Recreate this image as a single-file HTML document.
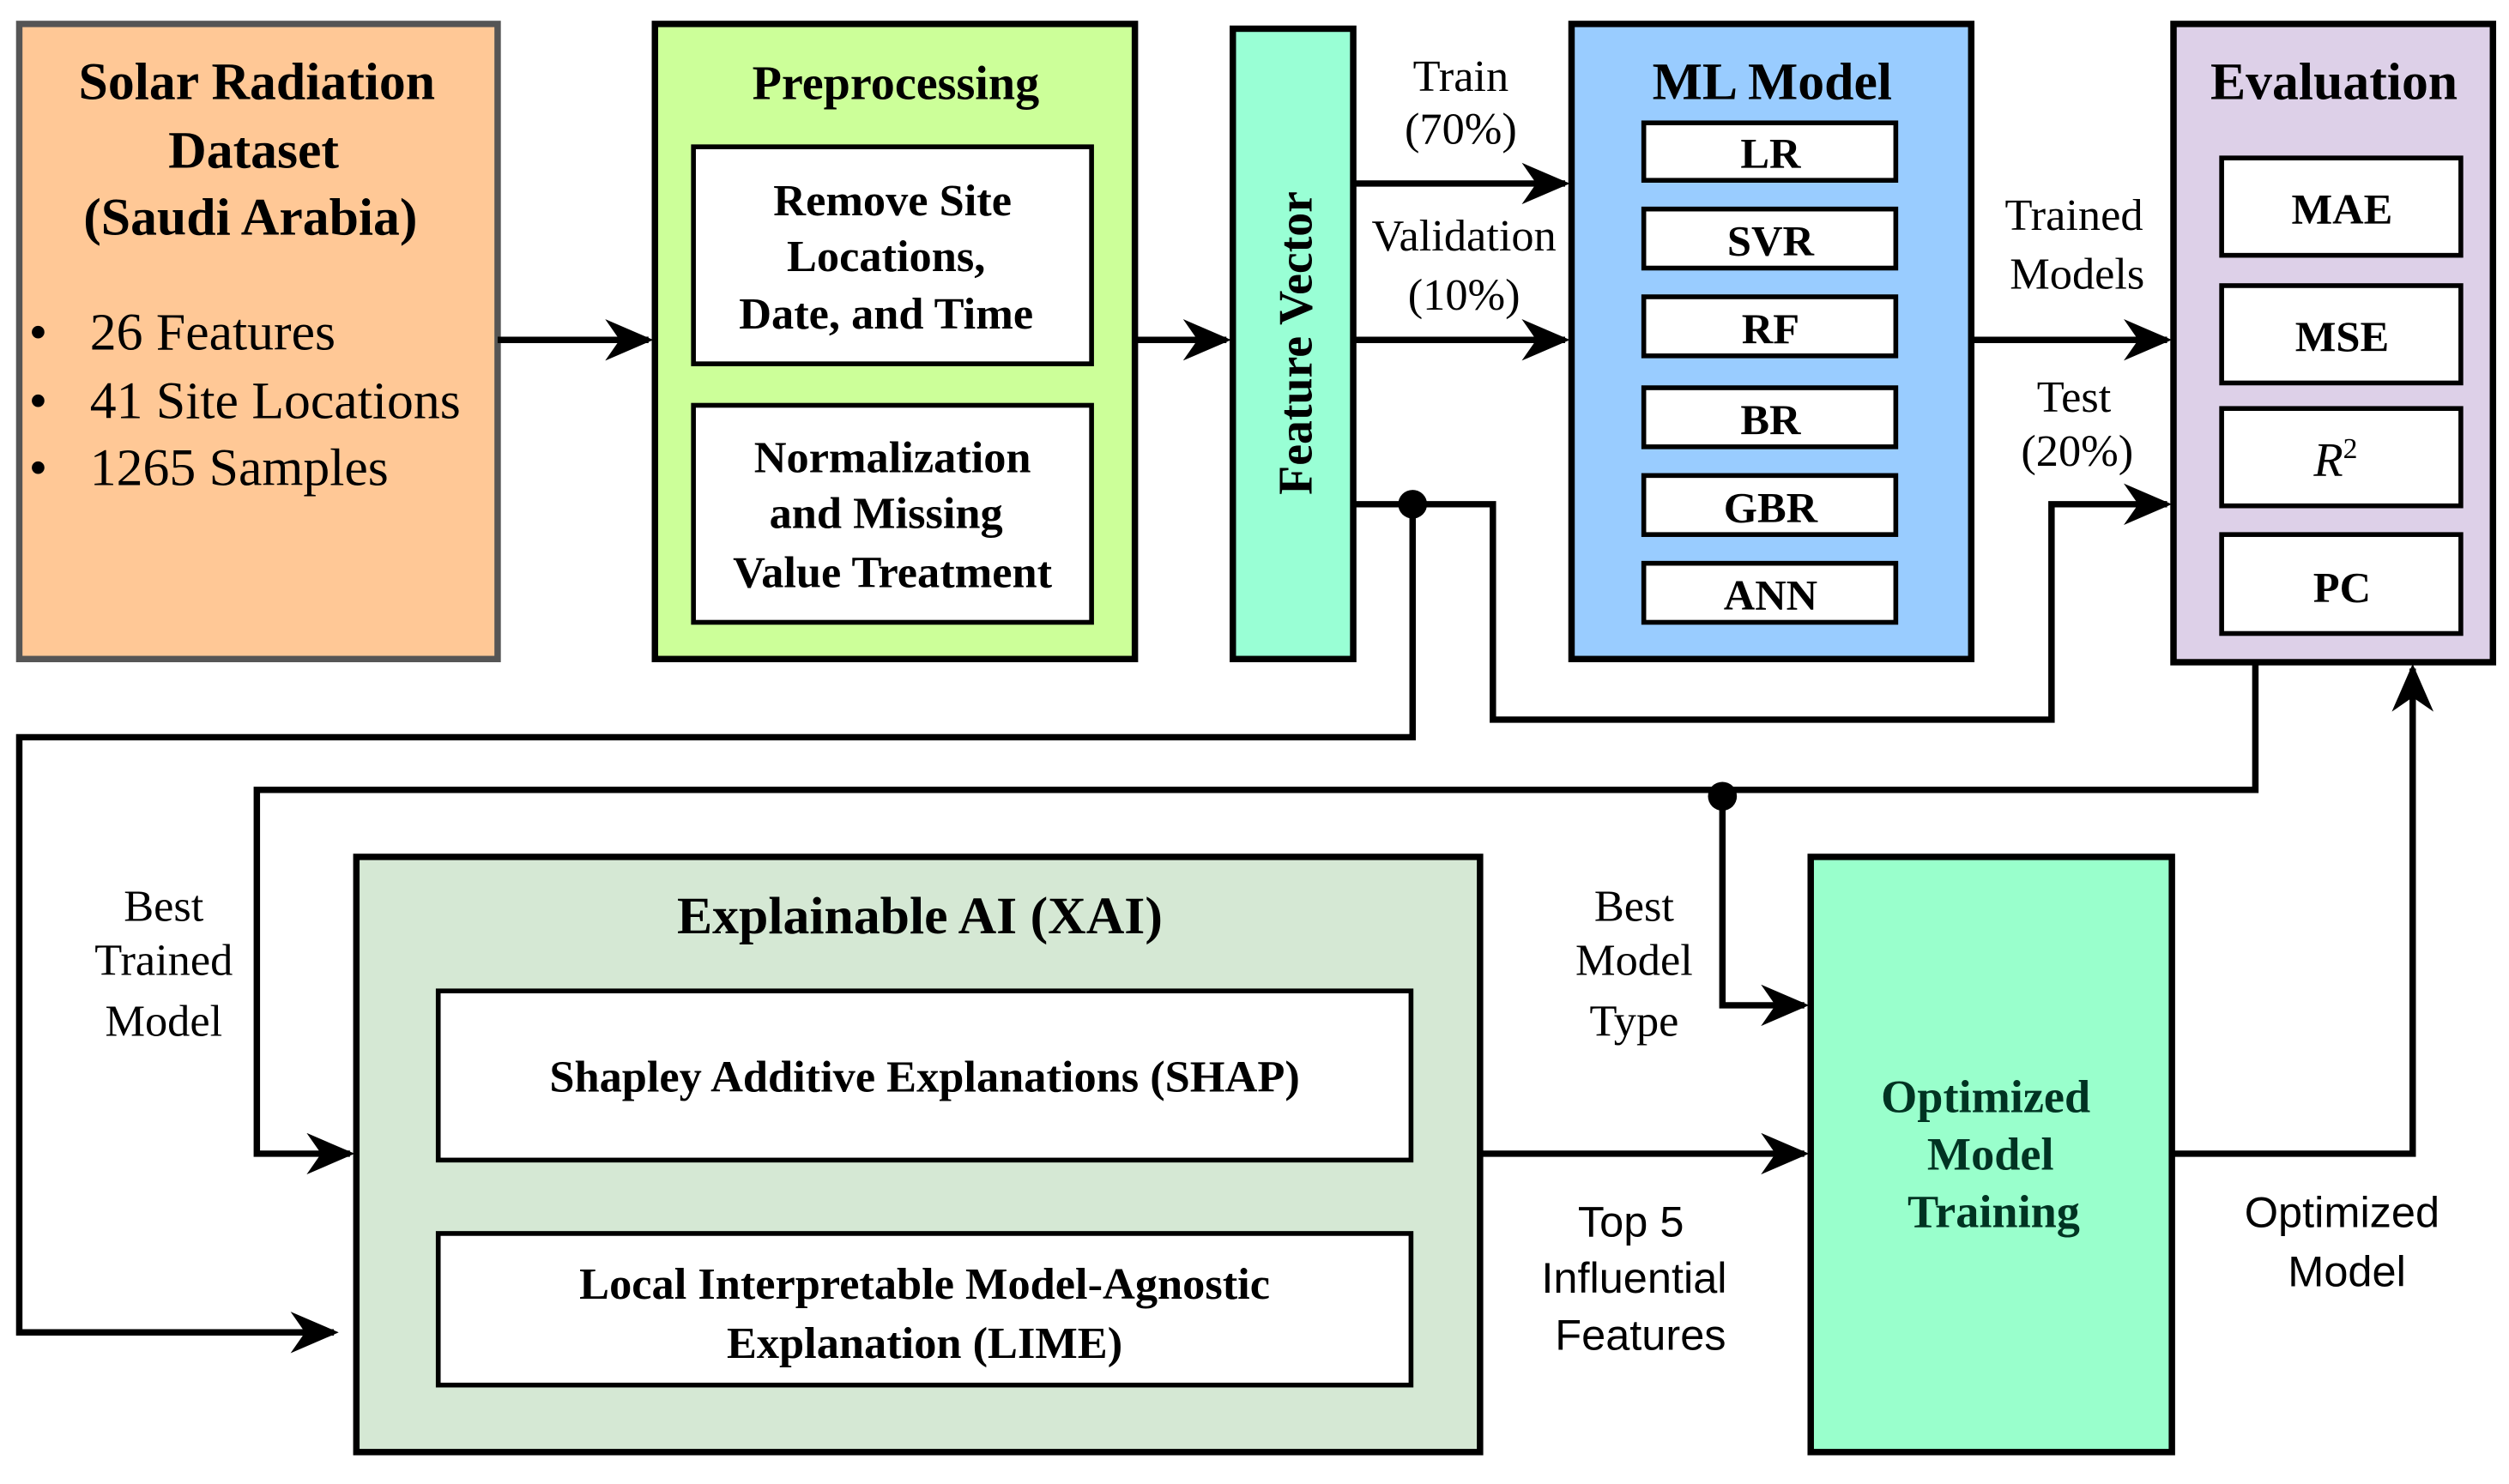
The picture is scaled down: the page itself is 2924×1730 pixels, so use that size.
<!DOCTYPE html>
<html><head><meta charset="utf-8"><style>
html,body{margin:0;padding:0;background:#fff;}
svg{display:block;}
.t{font-family:"Liberation Serif",serif;font-weight:bold;fill:#000;text-anchor:middle;}
.n{font-family:"Liberation Serif",serif;fill:#000;text-anchor:middle;}
.s{font-family:"Liberation Sans",sans-serif;fill:#000;text-anchor:middle;}
</style></head><body>
<svg width="2924" height="1730" viewBox="0 0 1563 930" preserveAspectRatio="none" xmlns="http://www.w3.org/2000/svg">
<defs>
<marker id="a" markerWidth="30" markerHeight="26" refX="9" refY="5" orient="auto" markerUnits="userSpaceOnUse" viewBox="0 0 10 10" preserveAspectRatio="none">
<path d="M0,0 L10,5 L0,10 L3,5 z" fill="#000"/>
</marker>
</defs>
<style>.ln{fill:none;stroke:#000;stroke-width:4;}</style>
<rect x="12" y="15" width="298" height="398" fill="#FFC896" stroke="#555" stroke-width="4"/>
<rect x="408" y="15" width="299" height="398" fill="#CCFF99" stroke="#000" stroke-width="4"/>
<rect x="432" y="92" width="248" height="136" fill="#fff" stroke="#000" stroke-width="3"/>
<rect x="432" y="254" width="248" height="136" fill="#fff" stroke="#000" stroke-width="3"/>
<rect x="768" y="18" width="75" height="395" fill="#99FFD5" stroke="#000" stroke-width="4"/>
<rect x="979" y="15" width="249" height="398" fill="#99CCFF" stroke="#000" stroke-width="4"/>
<g fill="#fff" stroke="#000" stroke-width="3">
<rect x="1024" y="77" width="157" height="36"/>
<rect x="1024" y="131" width="157" height="37"/>
<rect x="1024" y="186" width="157" height="37"/>
<rect x="1024" y="243" width="157" height="37"/>
<rect x="1024" y="298" width="157" height="37"/>
<rect x="1024" y="353" width="157" height="37"/>
</g>
<rect x="1354" y="15" width="199" height="400" fill="#DDD0E8" stroke="#000" stroke-width="4"/>
<g fill="#fff" stroke="#000" stroke-width="3">
<rect x="1384" y="99" width="149" height="61"/>
<rect x="1384" y="179" width="149" height="61"/>
<rect x="1384" y="256" width="149" height="61"/>
<rect x="1384" y="335" width="149" height="62"/>
</g>
<rect x="222" y="537" width="700" height="373" fill="#D5E8D4" stroke="#000" stroke-width="4"/>
<rect x="273" y="621" width="606" height="106" fill="#fff" stroke="#000" stroke-width="3"/>
<rect x="273" y="773" width="606" height="95" fill="#fff" stroke="#000" stroke-width="3"/>
<rect x="1128" y="537" width="225" height="373" fill="#99FFCC" stroke="#000" stroke-width="4"/>
<path class="ln" d="M310,213 H404" marker-end="url(#a)"/>
<path class="ln" d="M707,213 H764" marker-end="url(#a)"/>
<path class="ln" d="M843,115 H975" marker-end="url(#a)"/>
<path class="ln" d="M843,213 H975" marker-end="url(#a)"/>
<path class="ln" d="M843,316 H930 V451 H1278 V316 H1350" marker-end="url(#a)"/>
<path class="ln" d="M880,316 V462 H12 V835 H208" marker-end="url(#a)"/>
<circle cx="880" cy="316" r="9" fill="#000"/>
<path class="ln" d="M1228,213 H1350" marker-end="url(#a)"/>
<path class="ln" d="M1405,415 V495 H160 V723 H218" marker-end="url(#a)"/>
<path class="ln" d="M1073,497 V630 H1124" marker-end="url(#a)"/>
<circle cx="1073" cy="499" r="9" fill="#000"/>
<path class="ln" d="M922,723 H1124" marker-end="url(#a)"/>
<path class="ln" d="M1353,723 H1503 V419" marker-end="url(#a)"/>
<g class="t" font-size="33">
<text x="160" y="62">Solar Radiation</text>
<text x="158" y="105">Dataset</text>
<text x="156" y="147">(Saudi Arabia)</text>
</g>
<g class="n" font-size="33" style="text-anchor:start">
<text x="18" y="219">•</text><text x="56" y="219">26 Features</text>
<text x="18" y="262">•</text><text x="56" y="262">41 Site Locations</text>
<text x="18" y="304">•</text><text x="56" y="304">1265 Samples</text>
</g>
<text class="t" x="558" y="62" font-size="30">Preprocessing</text>
<g class="t" font-size="28">
<text x="556" y="135">Remove Site</text>
<text x="552" y="170">Locations,</text>
<text x="552" y="206">Date, and Time</text>
<text x="556" y="296">Normalization</text>
<text x="552" y="331">and Missing</text>
<text x="556" y="368">Value Treatment</text>
</g>
<text class="t" font-size="30" transform="translate(817,215) rotate(-90)">Feature Vector</text>
<text class="t" x="1104" y="62" font-size="33">ML Model</text>
<g class="t" font-size="27">
<text x="1103" y="105">LR</text>
<text x="1103" y="160">SVR</text>
<text x="1103" y="215">RF</text>
<text x="1103" y="272">BR</text>
<text x="1103" y="327">GBR</text>
<text x="1103" y="382">ANN</text>
</g>
<text class="t" x="1454" y="62" font-size="33">Evaluation</text>
<g class="t" font-size="27">
<text x="1459" y="140">MAE</text>
<text x="1459" y="220">MSE</text>
<text x="1459" y="377">PC</text>
</g>
<text class="n" x="1455" y="298" font-size="30" font-style="italic">R<tspan dy="-11" font-size="18" font-style="normal">2</tspan></text>
<g class="n" font-size="28">
<text x="910" y="57">Train</text>
<text x="910" y="90">(70%)</text>
<text x="912" y="157">Validation</text>
<text x="912" y="194">(10%)</text>
<text x="1292" y="144">Trained</text>
<text x="1294" y="181">Models</text>
<text x="1292" y="258">Test</text>
<text x="1294" y="292">(20%)</text>
<text x="102" y="577">Best</text>
<text x="102" y="611">Trained</text>
<text x="102" y="649">Model</text>
<text x="1018" y="577">Best</text>
<text x="1018" y="611">Model</text>
<text x="1018" y="649">Type</text>
</g>
<text class="t" x="573" y="585" font-size="33">Explainable AI (XAI)</text>
<g class="t" font-size="28">
<text x="576" y="684">Shapley Additive Explanations (SHAP)</text>
<text x="576" y="814">Local Interpretable Model-Agnostic</text>
<text x="576" y="851">Explanation (LIME)</text>
</g>
<g class="t" font-size="29" style="fill:#003322">
<text x="1237" y="697">Optimized</text>
<text x="1240" y="733">Model</text>
<text x="1242" y="769">Training</text>
</g>
<g class="s" font-size="27">
<text x="1016" y="775">Top 5</text>
<text x="1018" y="810">Influential</text>
<text x="1022" y="846">Features</text>
<text x="1459" y="769">Optimized</text>
<text x="1462" y="806">Model</text>
</g>
</svg>
</body></html>
